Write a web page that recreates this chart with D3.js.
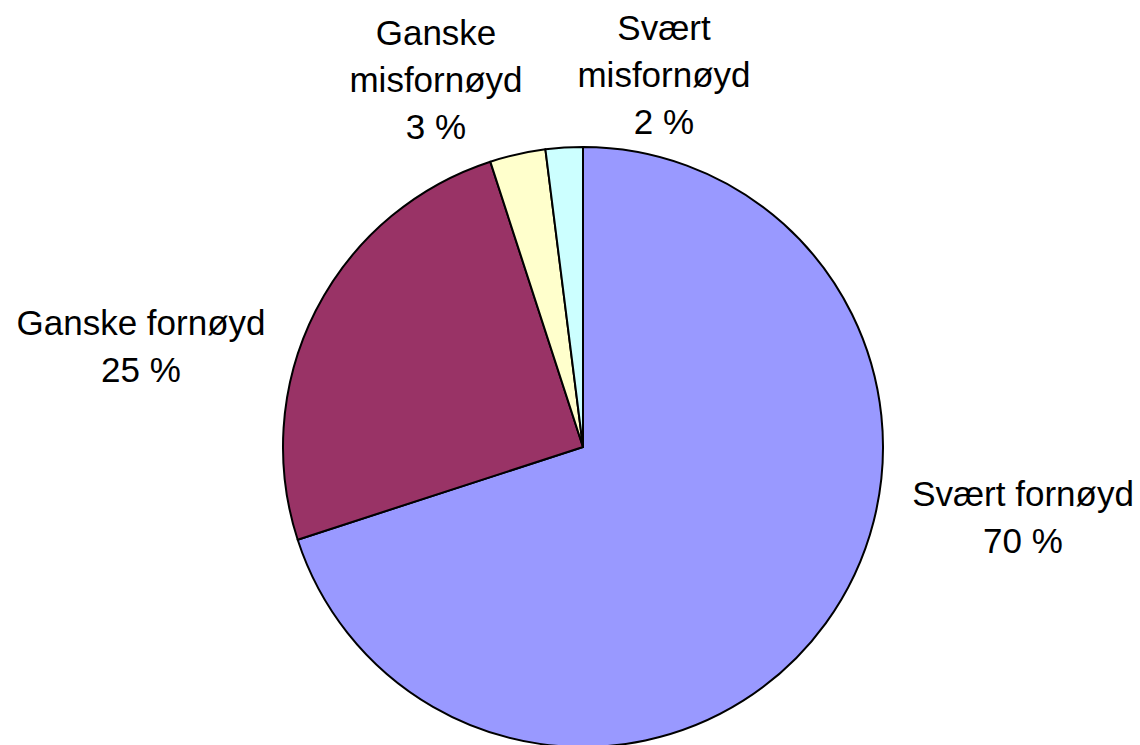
<!DOCTYPE html>
<html>
<head>
<meta charset="utf-8">
<script src="https://cdn.jsdelivr.net/npm/d3@7"></script>
<style>
  html, body { margin: 0; padding: 0; background: #ffffff; }
  svg { display: block; }
  text { font-family: "Liberation Sans", Arial, sans-serif; fill: #000; }
</style>
</head>
<body>
<svg id="chart" width="1140" height="745"></svg>
<script>
// Satisfaction survey: share of respondents per answer
const categories = ["Svært fornøyd", "Ganske fornøyd", "Ganske misfornøyd", "Svært misfornøyd"];
const shares = [70, 25, 3, 2];
const labelLines = [
  ["Svært fornøyd", "70 %"],
  ["Ganske fornøyd", "25 %"],
  ["Ganske", "misfornøyd", "3 %"],
  ["Svært", "misfornøyd", "2 %"]
];
const sliceColors = ["#9999FF", "#993366", "#FFFFCC", "#CCFFFF"];

const width = 1140, height = 745;
const cx = 583, cy = 447, radius = 300;
const fontSize = 35, lineGap = 47;

// Label block placement: x centre and first baseline for each slice
const labelLayout = [
  { x: 1023, y: 506 },
  { x: 141,  y: 335 },
  { x: 436,  y: 45 },
  { x: 664,  y: 40 }
];

const svg = d3.select("#chart");

const color = d3.scaleOrdinal().domain(categories).range(sliceColors);

const pie = d3.pie()
  .sort(null)
  .value(d => d.value)
  .startAngle(0)
  .endAngle(2 * Math.PI);

const arc = d3.arc().innerRadius(0).outerRadius(radius);

const data = categories.map((c, i) => ({ name: c, value: shares[i], lines: labelLines[i] }));
const arcs = pie(data);

const g = svg.append("g").attr("transform", `translate(${cx},${cy})`);

g.selectAll("path.slice")
  .data(arcs)
  .join("path")
  .attr("class", "slice")
  .attr("d", arc)
  .attr("fill", d => color(d.data.name))
  .attr("stroke", "#000")
  .attr("stroke-width", 2)
  .attr("stroke-linejoin", "round");

const labels = svg.selectAll("text.label")
  .data(arcs)
  .join("text")
  .attr("class", "label")
  .attr("text-anchor", "middle")
  .attr("font-size", fontSize)
  .attr("x", (d, i) => labelLayout[i].x)
  .attr("y", (d, i) => labelLayout[i].y);

labels.selectAll("tspan")
  .data((d, i) => d.data.lines.map(t => ({ t, x: labelLayout[i].x })))
  .join("tspan")
  .attr("x", d => d.x)
  .attr("dy", (d, j) => j === 0 ? 0 : lineGap)
  .text(d => d.t);
</script>
</body>
</html>
